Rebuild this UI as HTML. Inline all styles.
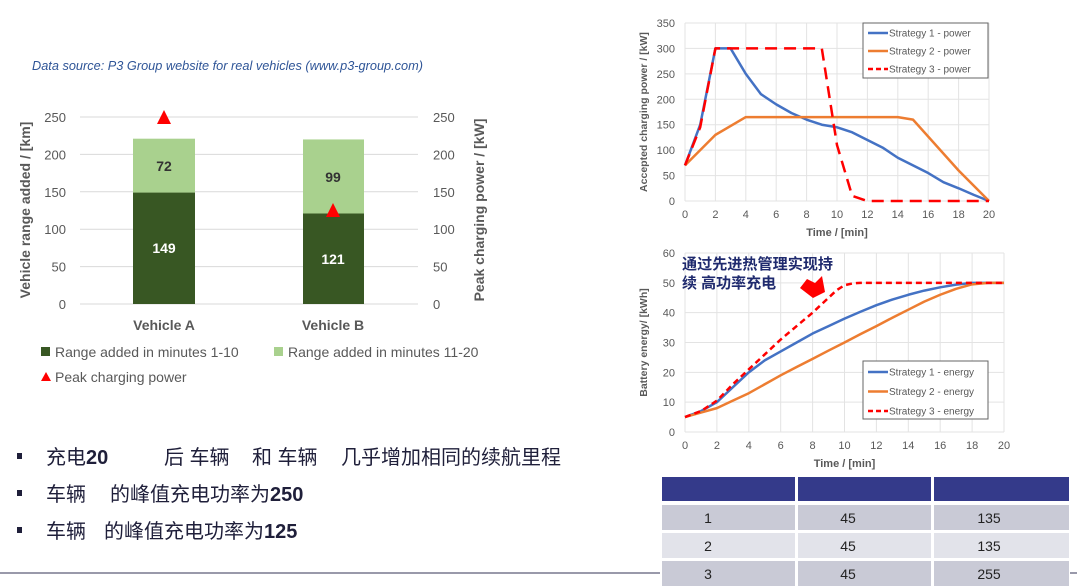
<!DOCTYPE html>
<html><head><meta charset="utf-8"><style>
body{margin:0;background:#fff;}
svg{display:block;font-family:"Liberation Sans","Noto Sans CJK SC",sans-serif;}
</style></head><body>
<svg id="s" width="1077" height="588" viewBox="0 0 1077 588" xmlns="http://www.w3.org/2000/svg">
<text x="32" y="70" font-size="12.5" font-style="italic" fill="#2f5597" textLength="391" lengthAdjust="spacingAndGlyphs">Data source: P3 Group website for real vehicles (www.p3-group.com)</text>
<g id="left" font-size="13" fill="#595959"></g>
<g id="tr" font-size="11" fill="#595959"></g>
<g id="br" font-size="11" fill="#595959"></g>
<text x="682" y="269" font-size="15" font-weight="bold" fill="#1f2a6e" textLength="151" lengthAdjust="spacingAndGlyphs">通过先进热管理实现持</text>
<text x="682" y="288" font-size="15" font-weight="bold" fill="#1f2a6e">续 高功率充电</text>
<polygon points="800,288 807,279 815,283 822,276 825,292 813,298" fill="#ff0000"/>
<rect x="662" y="477" width="133" height="24" fill="#343a8a"/>
<rect x="798" y="477" width="133" height="24" fill="#343a8a"/>
<rect x="934" y="477" width="135" height="24" fill="#343a8a"/>
<g font-size="14" fill="#222" text-anchor="middle">
<rect x="662" y="505" width="133" height="25" fill="#c9cad6"/><rect x="798" y="505" width="133" height="25" fill="#c9cad6"/><rect x="934" y="505" width="135" height="25" fill="#c9cad6"/>
<rect x="662" y="533" width="133" height="25" fill="#e2e3ea"/><rect x="798" y="533" width="133" height="25" fill="#e2e3ea"/><rect x="934" y="533" width="135" height="25" fill="#e2e3ea"/>
<rect x="662" y="561" width="133" height="25" fill="#c9cad6"/><rect x="798" y="561" width="133" height="25" fill="#c9cad6"/><rect x="934" y="561" width="135" height="25" fill="#c9cad6"/>
<text x="708" y="523">1</text><text x="848" y="523">45</text><text x="989" y="523">135</text>
<text x="708" y="551">2</text><text x="848" y="551">45</text><text x="989" y="551">135</text>
<text x="708" y="579">3</text><text x="848" y="579">45</text><text x="989" y="579">255</text>
</g>
<line x1="0" y1="573" x2="660" y2="573" stroke="#333355" stroke-width="1"/>
<line x1="1070" y1="573" x2="1077" y2="573" stroke="#333355" stroke-width="1"/>
<g font-size="20" fill="#1f1f3a">
<rect x="17" y="453" width="5" height="6" fill="#1f1f3a"/>
<rect x="17" y="490" width="5" height="6" fill="#1f1f3a"/>
<rect x="17" y="527" width="5" height="6" fill="#1f1f3a"/>
<text x="46" y="464">充电<tspan font-weight="bold">20</tspan><tspan x="164">后 车辆</tspan><tspan x="252">和 车辆</tspan><tspan x="341">几乎增加相同的续航里程</tspan></text>
<text x="46" y="501">车辆<tspan x="110">的峰值充电功率为</tspan><tspan font-weight="bold">250</tspan></text>
<text x="46" y="538">车辆<tspan x="104">的峰值充电功率为</tspan><tspan font-weight="bold">125</tspan></text>
</g>
</svg>
<script>
const NS="http://www.w3.org/2000/svg";
function el(p,t,a,txt){const e=document.createElementNS(NS,t);for(const k in a)e.setAttribute(k,a[k]);if(txt!==undefined)e.textContent=txt;p.appendChild(e);return e;}
const L=document.getElementById('left');
const ly=v=>304-v*0.748;
for(let v=0;v<=250;v+=50){el(L,'line',{x1:80,x2:418,y1:ly(v),y2:ly(v),stroke:'#d9d9d9'});
el(L,'text',{x:66,y:ly(v)+5,'text-anchor':'end'},v);el(L,'text',{x:433,y:ly(v)+5},v);}
el(L,'rect',{x:133,y:ly(149),width:62,height:149*0.748,fill:'#385723'});
el(L,'rect',{x:133,y:ly(221),width:62,height:72*0.748,fill:'#a9d18e'});
el(L,'rect',{x:303,y:ly(121),width:61,height:121*0.748,fill:'#385723'});
el(L,'rect',{x:303,y:ly(220),width:61,height:99*0.748,fill:'#a9d18e'});
el(L,'text',{x:164,y:253,'text-anchor':'middle','font-weight':'bold',fill:'#fff',"font-size":14},'149');
el(L,'text',{x:164,y:171,'text-anchor':'middle','font-weight':'bold',fill:'#333',"font-size":14},'72');
el(L,'text',{x:333,y:264,'text-anchor':'middle','font-weight':'bold',fill:'#fff',"font-size":14},'121');
el(L,'text',{x:333,y:182,'text-anchor':'middle','font-weight':'bold',fill:'#333',"font-size":14},'99');
el(L,'polygon',{points:'164,110 157,124 171,124',fill:'#ff0000'});
el(L,'polygon',{points:'333,203 326,217 340,217',fill:'#ff0000'});
el(L,'text',{x:164,y:330,'text-anchor':'middle','font-weight':'bold',"font-size":14},'Vehicle A');
el(L,'text',{x:333,y:330,'text-anchor':'middle','font-weight':'bold',"font-size":14},'Vehicle B');
el(L,'text',{x:30,y:210,'text-anchor':'middle','font-weight':'bold',"font-size":14,transform:'rotate(-90 30 210)'},'Vehicle range added / [km]');
el(L,'text',{x:484,y:210,'text-anchor':'middle','font-weight':'bold',"font-size":14,transform:'rotate(-90 484 210)'},'Peak charging power / [kW]');
el(L,'rect',{x:41,y:347,width:9,height:9,fill:'#385723'});
el(L,'text',{x:55,y:357,"font-size":14},'Range added in minutes 1-10');
el(L,'rect',{x:274,y:347,width:9,height:9,fill:'#a9d18e'});
el(L,'text',{x:288,y:357,"font-size":14},'Range added in minutes 11-20');
el(L,'polygon',{points:'46,372 41,381 51,381',fill:'#ff0000'});
el(L,'text',{x:55,y:382,"font-size":14},'Peak charging power');

function chart(g,x0,x1,y0,y1,ymax,ystep,ylabel,series,leg,legY){
 const X=t=>x0+(x1-x0)*t/20, Y=v=>y0-(y0-y1)*v/ymax;
 for(let t=0;t<=20;t+=2){el(g,'line',{x1:X(t),x2:X(t),y1:y1,y2:y0,stroke:'#e3e3e3'});el(g,'text',{x:X(t),y:y0+17,'text-anchor':'middle'},t);}
 for(let v=0;v<=ymax;v+=ystep){el(g,'line',{x1:x0,x2:x1,y1:Y(v),y2:Y(v),stroke:'#e3e3e3'});el(g,'text',{x:x0-10,y:Y(v)+4,'text-anchor':'end'},v);}
 el(g,'text',{x:(x0+x1)/2,y:y0+35,'text-anchor':'middle','font-weight':'bold'},'Time / [min]');
 const lx=x0-38, lyc=(y0+y1)/2;
 el(g,'text',{x:lx,y:lyc,'text-anchor':'middle','font-weight':'bold','font-size':10.5,transform:`rotate(-90 ${lx} ${lyc})`},ylabel);
 series.forEach(s=>{el(g,'polyline',{points:s.p.map(q=>X(q[0])+','+Y(q[1])).join(' '),fill:'none',stroke:s.c,'stroke-width':2.5,'stroke-dasharray':s.d||'none','stroke-linejoin':'round'});});
 el(g,'rect',{x:863,y:legY,width:125,height:leg==='power'?55:58,fill:'#fff',stroke:'#666'});
 series.forEach((s,i)=>{const yy=legY+(leg==='power'?10:11)+i*(leg==='power'?18:19.5);
  el(g,'line',{x1:868,x2:888,y1:yy,y2:yy,stroke:s.c,'stroke-width':2.5,'stroke-dasharray':s.d?'5,3':'none'});
  el(g,'text',{x:889,y:yy+3.5,'font-size':10},`Strategy ${i+1} - ${leg}`);});
}
(function(){
 const g=document.getElementById('tr');
 const s1={c:'#4472c4',p:[[0,70],[1,150],[2,300],[3,300],[4,250],[5,210],[6,190],[7,173],[8,160],[9,150],[10,145],[11,135],[12,120],[13,105],[14,85],[15,70],[16,55],[17,37],[18,25],[19,12],[20,0]]};
 const s2={c:'#ed7d31',p:[[0,70],[2,130],[4,165],[14,165],[15,160],[18,60],[20,0]]};
 const s3={c:'#ff0000',d:'12,7',p:[[0,70],[1,145],[2,300],[9,300],[10,110],[11,10],[12,0],[20,0]]};
 chart(g,685,989,201,23,350,50,'Accepted charging power / [kW]',[s1,s2,s3],'power',23);
 const b=document.getElementById('br');
 const e1={c:'#4472c4',p:[[0,5],[1,7],[2,10],[3,15],[4,20],[5,24],[6,27],[7,30],[8,33],[9,35.5],[10,38],[11,40.3],[12,42.5],[13,44.4],[14,46],[15,47.4],[16,48.5],[17,49.4],[18,50],[20,50]]};
 const e2={c:'#ed7d31',p:[[0,5],[1,6.5],[2,8],[3,10.5],[4,13],[5,16],[6,19],[7,21.8],[8,24.5],[9,27.3],[10,30],[11,32.8],[12,35.5],[13,38.3],[14,41],[15,43.7],[16,46],[17,48],[18,49.5],[19,50],[20,50]]};
 const e3={c:'#ff0000',d:'6,4',p:[[0,5],[1,7],[2,10.5],[3,16],[4,21],[5,26],[6,31],[7,35.5],[8,40],[9,45],[9.5,47.5],[10,49.2],[10.5,49.8],[11,50],[20,50]]};
 chart(b,685,1004,432,253,60,10,'Battery energy/ [kWh]',[e1,e2,e3],'energy',361);
})();
</script>
</body></html>
